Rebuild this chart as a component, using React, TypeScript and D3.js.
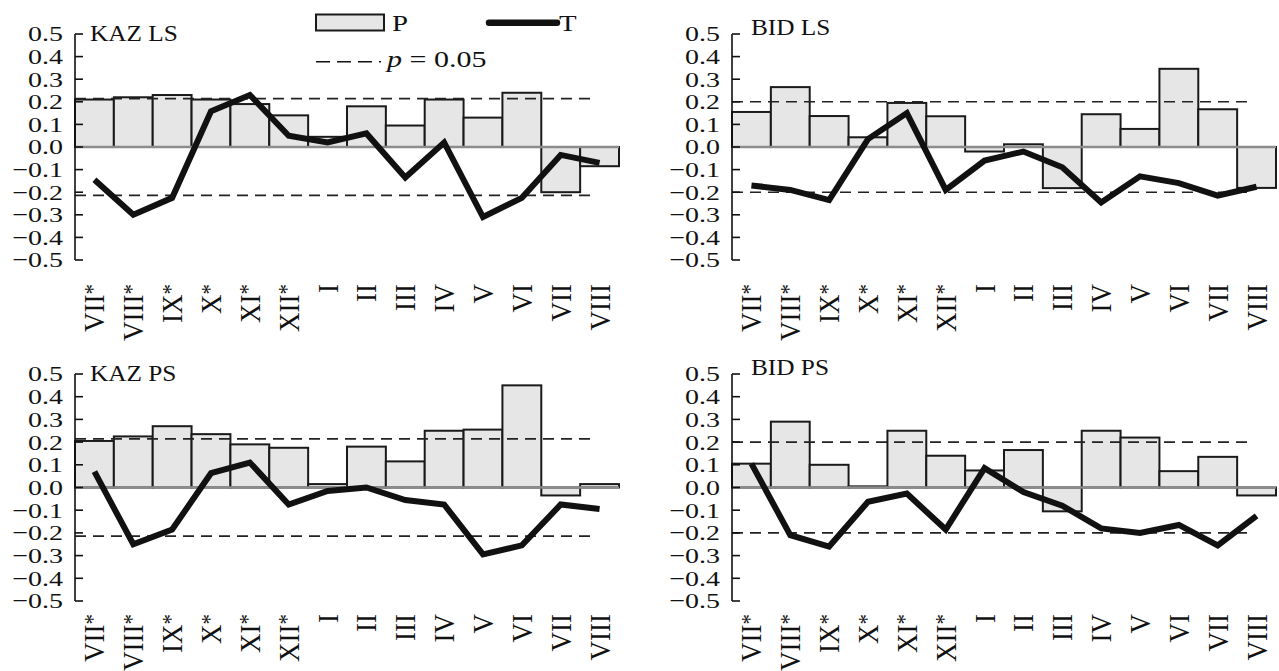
import React from 'react';
import * as d3 from 'd3';

// month labels, the first six are from the previous year (marked with *)
const months = ['VII', 'VIII', 'IX', 'X', 'XI', 'XII', 'I', 'II', 'III', 'IV', 'V', 'VI', 'VII', 'VIII'];
const starred = [true, true, true, true, true, true, false, false, false, false, false, false, false, false];
const yTicks = [0.5, 0.4, 0.3, 0.2, 0.1, 0.0, -0.1, -0.2, -0.3, -0.4, -0.5];

// correlation with precipitation (bars) and temperature (line)
const kazLsP = [0.21, 0.22, 0.23, 0.21, 0.19, 0.14, 0.045, 0.18, 0.095, 0.21, 0.13, 0.24, -0.2, -0.085];
const kazLsT = [-0.145, -0.3, -0.225, 0.158, 0.23, 0.05, 0.02, 0.06, -0.135, 0.02, -0.31, -0.225, -0.035, -0.07];
const bidLsP = [0.155, 0.265, 0.137, 0.043, 0.195, 0.136, -0.02, 0.012, -0.182, 0.145, 0.08, 0.346, 0.167, -0.181];
const bidLsT = [-0.17, -0.19, -0.235, 0.035, 0.15, -0.19, -0.06, -0.02, -0.09, -0.245, -0.13, -0.16, -0.215, -0.176];
const kazPsP = [0.205, 0.225, 0.27, 0.235, 0.19, 0.175, 0.015, 0.18, 0.115, 0.25, 0.255, 0.45, -0.035, 0.015];
const kazPsT = [0.07, -0.25, -0.185, 0.063, 0.11, -0.075, -0.015, 0.0, -0.055, -0.075, -0.295, -0.255, -0.075, -0.095];
const bidPsP = [0.105, 0.29, 0.1, 0.005, 0.25, 0.14, 0.075, 0.165, -0.105, 0.25, 0.22, 0.072, 0.135, -0.035];
const bidPsT = [0.105, -0.21, -0.26, -0.063, -0.027, -0.185, 0.085, -0.02, -0.08, -0.18, -0.2, -0.165, -0.255, -0.125];

const panelTitles = ['KAZ LS', 'BID LS', 'KAZ PS', 'BID PS'];
const sigLevels = [0.214, 0.2, 0.214, 0.2];

const FONT = '"Liberation Serif", "Times New Roman", serif';

const rows = [
  { top: 34, bottom: 260, labelTop: 284 },
  { top: 374, bottom: 601, labelTop: 614 },
];
const cols = [
  { axisX: 75, end: 619 },
  { axisX: 732, end: 1276 },
];

function Panel({ title, p, t, sig, row, col, titleX, titleY }) {
  const r = rows[row];
  const c = cols[col];
  const x = d3.scaleBand().domain(months.map((_, i) => String(i))).range([c.axisX, c.end]).padding(0);
  const y = d3.scaleLinear().domain([-0.5, 0.5]).range([r.bottom, r.top]);
  const cx = (i) => x(String(i)) + x.bandwidth() / 2;
  const line = d3.line().x((d, i) => cx(i)).y((d) => y(d));
  const dashEnd = cx(months.length - 1) - 6.5;

  return (
    <g>
      {p.map((v, i) => (
        <rect key={'b' + i}
          x={x(String(i))}
          y={Math.min(y(v), y(0))}
          width={x.bandwidth()}
          height={Math.abs(y(v) - y(0))}
          fill="#e6e6e6" stroke="#1a1a1a" strokeWidth={2} />
      ))}
      <line x1={c.axisX} x2={c.end} y1={y(0)} y2={y(0)} stroke="#8c8c8c" strokeWidth={2.5} />
      {[sig, -sig].map((s, i) => (
        <line key={'s' + i} x1={c.axisX} x2={dashEnd} y1={y(s)} y2={y(s)}
          stroke="#222" strokeWidth={1.6} strokeDasharray="11,7" />
      ))}
      <line x1={c.axisX} x2={c.axisX} y1={y(0.5)} y2={y(-0.5)} stroke="#111" strokeWidth={1.6} />
      {yTicks.map((v) => (
        <g key={'t' + v}>
          <line x1={c.axisX} x2={c.axisX + 8} y1={y(v)} y2={y(v)} stroke="#111" strokeWidth={1.6} />
          <g transform={`translate(${c.axisX - 12},${y(v)}) scale(1.27,1)`}>
            <text textAnchor="end" dy="0.34em" fontFamily={FONT} fontSize={22} fill="#111">
              {(v < 0 ? '\u2212' : '') + Math.abs(v).toFixed(1)}
            </text>
          </g>
        </g>
      ))}
      <path d={line(t)} fill="none" stroke="#111" strokeWidth={6} strokeLinejoin="miter" />
      <g transform={`translate(${titleX},${titleY}) scale(1.1,1)`}>
        <text fontFamily={FONT} fontSize={23} fill="#111">{title}</text>
      </g>
      {months.map((m, i) => (
        <g key={'m' + i} transform={`translate(${cx(i)},${r.labelTop}) scale(1.12,1) rotate(-90)`}>
          <text textAnchor="end" dy="0.33em" fontFamily={FONT} fontSize={27} fill="#111">
            {m}
            {starred[i] ? <tspan fontSize={21} dy={-4}>*</tspan> : null}
          </text>
        </g>
      ))}
    </g>
  );
}

function Legend() {
  return (
    <g>
      <rect x={316} y={14.5} width={68} height={16} fill="#e6e6e6" stroke="#1a1a1a" strokeWidth={2} />
      <g transform="translate(392,31) scale(1.2,1)">
        <text fontFamily={FONT} fontSize={24} fill="#111">P</text>
      </g>
      <line x1={489} x2={557} y1={22.7} y2={22.7} stroke="#111" strokeWidth={6.5} strokeLinecap="round" />
      <g transform="translate(559,31) scale(1.2,1)">
        <text fontFamily={FONT} fontSize={24} fill="#111">T</text>
      </g>
      <line x1={316} x2={381} y1={61.7} y2={61.7} stroke="#111" strokeWidth={1.6} strokeDasharray="14,7" />
      <g transform="translate(387,67) scale(1.25,1)">
        <text fontFamily={FONT} fontSize={24} fill="#111">
          <tspan fontStyle="italic">p</tspan> = 0.05
        </text>
      </g>
    </g>
  );
}

export default function App() {
  const pData = [kazLsP, bidLsP, kazPsP, bidPsP];
  const tData = [kazLsT, bidLsT, kazPsT, bidPsT];
  const titlePos = [[90, 41], [751, 35], [90, 381], [751, 375]];
  return (
    <svg width={1279} height={671} style={{ position: 'absolute', left: 0, top: 0, background: '#fff' }}>
      {panelTitles.map((title, i) => (
        <Panel key={title} title={title} p={pData[i]} t={tData[i]} sig={sigLevels[i]}
          row={Math.floor(i / 2)} col={i % 2} titleX={titlePos[i][0]} titleY={titlePos[i][1]} />
      ))}
      <Legend />
    </svg>
  );
}
